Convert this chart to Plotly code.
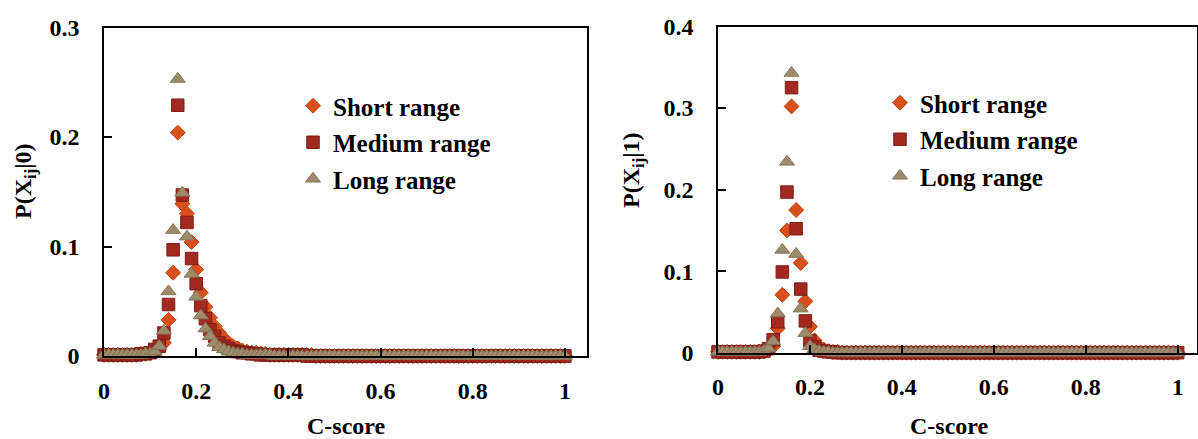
import plotly.graph_objects as go

# C-score bins
c_score = [0.00, 0.01, 0.02, 0.03, 0.04, 0.05, 0.06, 0.07, 0.08, 0.09,
           0.10, 0.11, 0.12, 0.13, 0.14, 0.15, 0.16, 0.17, 0.18, 0.19,
           0.20, 0.21, 0.22, 0.23, 0.24, 0.25, 0.26, 0.27, 0.28, 0.29,
           0.30, 0.31, 0.32, 0.33, 0.34, 0.35, 0.36, 0.37, 0.38, 0.39,
           0.40, 0.41, 0.42, 0.43, 0.44, 0.45, 0.46, 0.47, 0.48, 0.49,
           0.50, 0.51, 0.52, 0.53, 0.54, 0.55, 0.56, 0.57, 0.58, 0.59,
           0.60, 0.61, 0.62, 0.63, 0.64, 0.65, 0.66, 0.67, 0.68, 0.69,
           0.70, 0.71, 0.72, 0.73, 0.74, 0.75, 0.76, 0.77, 0.78, 0.79,
           0.80, 0.81, 0.82, 0.83, 0.84, 0.85, 0.86, 0.87, 0.88, 0.89,
           0.90, 0.91, 0.92, 0.93, 0.94, 0.95, 0.96, 0.97, 0.98, 0.99,
           1.00]

# P(Xij | 0)
short_0 = [0.001, 0.001, 0.001, 0.001, 0.001, 0.001, 0.001, 0.001, 0.002, 0.002,
           0.003, 0.005, 0.008, 0.012, 0.033, 0.076, 0.204, 0.139, 0.130, 0.104,
           0.079, 0.058, 0.045, 0.035, 0.027, 0.021, 0.016, 0.012, 0.009, 0.007,
           0.005, 0.004, 0.003, 0.003, 0.002, 0.002, 0.001, 0.001, 0.001, 0.001,
           0.001, 0.001, 0.001, 0.001, 0.001, 0.001, 0.000, 0.000, 0.000, 0.000,
           0.000, 0.000, 0.000, 0.000, 0.000, 0.000, 0.000, 0.000, 0.000, 0.000,
           0.000, 0.000, 0.000, 0.000, 0.000, 0.000, 0.000, 0.000, 0.000, 0.000,
           0.000, 0.000, 0.000, 0.000, 0.000, 0.000, 0.000, 0.000, 0.000, 0.000,
           0.000, 0.000, 0.000, 0.000, 0.000, 0.000, 0.000, 0.000, 0.000, 0.000,
           0.000, 0.000, 0.000, 0.000, 0.000, 0.000, 0.000, 0.000, 0.000, 0.000,
           0.000]
medium_0 = [0.001, 0.001, 0.001, 0.001, 0.001, 0.001, 0.001, 0.001, 0.002, 0.002,
            0.003, 0.006, 0.009, 0.021, 0.047, 0.097, 0.229, 0.147, 0.122, 0.089,
            0.066, 0.046, 0.034, 0.024, 0.018, 0.012, 0.009, 0.007, 0.005, 0.004,
            0.003, 0.003, 0.002, 0.002, 0.001, 0.001, 0.001, 0.001, 0.001, 0.001,
            0.001, 0.001, 0.001, 0.001, 0.000, 0.000, 0.000, 0.000, 0.000, 0.000,
            0.000, 0.000, 0.000, 0.000, 0.000, 0.000, 0.000, 0.000, 0.000, 0.000,
            0.000, 0.000, 0.000, 0.000, 0.000, 0.000, 0.000, 0.000, 0.000, 0.000,
            0.000, 0.000, 0.000, 0.000, 0.000, 0.000, 0.000, 0.000, 0.000, 0.000,
            0.000, 0.000, 0.000, 0.000, 0.000, 0.000, 0.000, 0.000, 0.000, 0.000,
            0.000, 0.000, 0.000, 0.000, 0.000, 0.000, 0.000, 0.000, 0.000, 0.000,
            0.000]
long_0 = [0.001, 0.001, 0.001, 0.001, 0.001, 0.001, 0.001, 0.001, 0.001, 0.002,
          0.002, 0.004, 0.009, 0.023, 0.059, 0.115, 0.253, 0.149, 0.109, 0.075,
          0.054, 0.037, 0.025, 0.018, 0.012, 0.008, 0.006, 0.004, 0.003, 0.002,
          0.002, 0.001, 0.001, 0.001, 0.001, 0.001, 0.001, 0.000, 0.000, 0.000,
          0.000, 0.000, 0.000, 0.000, 0.000, 0.000, 0.000, 0.000, 0.000, 0.000,
          0.000, 0.000, 0.000, 0.000, 0.000, 0.000, 0.000, 0.000, 0.000, 0.000,
          0.000, 0.000, 0.000, 0.000, 0.000, 0.000, 0.000, 0.000, 0.000, 0.000,
          0.000, 0.000, 0.000, 0.000, 0.000, 0.000, 0.000, 0.000, 0.000, 0.000,
          0.000, 0.000, 0.000, 0.000, 0.000, 0.000, 0.000, 0.000, 0.000, 0.000,
          0.000, 0.000, 0.000, 0.000, 0.000, 0.000, 0.000, 0.000, 0.000, 0.000,
          0.000]

# P(Xij | 1)
short_1 = [0.001, 0.001, 0.001, 0.001, 0.001, 0.001, 0.001, 0.001, 0.001, 0.001,
           0.002, 0.004, 0.008, 0.030, 0.071, 0.150, 0.302, 0.175, 0.110, 0.063,
           0.032, 0.015, 0.007, 0.004, 0.002, 0.001, 0.001, 0.000, 0.000, 0.000,
           0.000, 0.000, 0.000, 0.000, 0.000, 0.000, 0.000, 0.000, 0.000, 0.000,
           0.000, 0.000, 0.000, 0.000, 0.000, 0.000, 0.000, 0.000, 0.000, 0.000,
           0.000, 0.000, 0.000, 0.000, 0.000, 0.000, 0.000, 0.000, 0.000, 0.000,
           0.000, 0.000, 0.000, 0.000, 0.000, 0.000, 0.000, 0.000, 0.000, 0.000,
           0.000, 0.000, 0.000, 0.000, 0.000, 0.000, 0.000, 0.000, 0.000, 0.000,
           0.000, 0.000, 0.000, 0.000, 0.000, 0.000, 0.000, 0.000, 0.000, 0.000,
           0.000, 0.000, 0.000, 0.000, 0.000, 0.000, 0.000, 0.000, 0.000, 0.000,
           0.000]
medium_1 = [0.001, 0.001, 0.001, 0.001, 0.001, 0.001, 0.001, 0.001, 0.001, 0.001,
            0.002, 0.005, 0.016, 0.038, 0.099, 0.197, 0.325, 0.152, 0.078, 0.039,
            0.015, 0.007, 0.003, 0.002, 0.001, 0.001, 0.000, 0.000, 0.000, 0.000,
            0.000, 0.000, 0.000, 0.000, 0.000, 0.000, 0.000, 0.000, 0.000, 0.000,
            0.000, 0.000, 0.000, 0.000, 0.000, 0.000, 0.000, 0.000, 0.000, 0.000,
            0.000, 0.000, 0.000, 0.000, 0.000, 0.000, 0.000, 0.000, 0.000, 0.000,
            0.000, 0.000, 0.000, 0.000, 0.000, 0.000, 0.000, 0.000, 0.000, 0.000,
            0.000, 0.000, 0.000, 0.000, 0.000, 0.000, 0.000, 0.000, 0.000, 0.000,
            0.000, 0.000, 0.000, 0.000, 0.000, 0.000, 0.000, 0.000, 0.000, 0.000,
            0.000, 0.000, 0.000, 0.000, 0.000, 0.000, 0.000, 0.000, 0.000, 0.000,
            0.000]
long_1 = [0.001, 0.001, 0.001, 0.001, 0.001, 0.001, 0.001, 0.001, 0.001, 0.001,
          0.002, 0.005, 0.014, 0.048, 0.126, 0.234, 0.343, 0.121, 0.054, 0.024,
          0.008, 0.004, 0.002, 0.001, 0.001, 0.000, 0.000, 0.000, 0.000, 0.000,
          0.000, 0.000, 0.000, 0.000, 0.000, 0.000, 0.000, 0.000, 0.000, 0.000,
          0.000, 0.000, 0.000, 0.000, 0.000, 0.000, 0.000, 0.000, 0.000, 0.000,
          0.000, 0.000, 0.000, 0.000, 0.000, 0.000, 0.000, 0.000, 0.000, 0.000,
          0.000, 0.000, 0.000, 0.000, 0.000, 0.000, 0.000, 0.000, 0.000, 0.000,
          0.000, 0.000, 0.000, 0.000, 0.000, 0.000, 0.000, 0.000, 0.000, 0.000,
          0.000, 0.000, 0.000, 0.000, 0.000, 0.000, 0.000, 0.000, 0.000, 0.000,
          0.000, 0.000, 0.000, 0.000, 0.000, 0.000, 0.000, 0.000, 0.000, 0.000,
          0.000]

series_names = ["Short range", "Medium range", "Long range"]
x_tickvals = [0, 0.2, 0.4, 0.6, 0.8, 1.0]
x_ticktext = ["0", "0.2", "0.4", "0.6", "0.8", "1"]
y0_tickvals = [0, 0.1, 0.2, 0.3]
y0_ticktext = ["0", "0.1", "0.2", "0.3"]
y1_tickvals = [0, 0.1, 0.2, 0.3, 0.4]
y1_ticktext = ["0", "0.1", "0.2", "0.3", "0.4"]

FONT = "Liberation Serif"
W, H = 1198, 439

styles = [
    dict(symbol="diamond", size=11.5, color="#D9501C", line=dict(color="#C0440F", width=1)),
    dict(symbol="square", size=12.5, color="#A1291F", line=dict(color="#7E1E16", width=1)),
    dict(symbol="triangle-up", size=13, color="#9E8B6B", line=dict(color="#857255", width=1)),
]

fig = go.Figure()
panels = [
    ([short_0, medium_0, long_0], "x", "y", "legend"),
    ([short_1, medium_1, long_1], "x2", "y2", "legend2"),
]
for series, xa, ya, lg in panels:
    for name, vals, st in zip(series_names, series, styles):
        fig.add_trace(go.Scatter(
            x=c_score, y=vals, mode="markers", name=name,
            marker=dict(symbol=st["symbol"], size=st["size"], color=st["color"], line=st["line"]),
            xaxis=xa, yaxis=ya, legend=lg, legendgroup=lg + name,
            cliponaxis=False, showlegend=True,
        ))

tickfont = dict(family=FONT, size=24, color="black", weight="bold")
axis_common = dict(showline=True, linecolor="black", linewidth=1.5, mirror=True,
                   ticks="inside", ticklen=8, tickwidth=1.5, tickcolor="black",
                   showgrid=False, zeroline=False, tickfont=tickfont, automargin=False)

fig.update_layout(
    template="none",
    width=W, height=H,
    margin=dict(l=0, r=0, t=0, b=0, autoexpand=False),
    paper_bgcolor="white", plot_bgcolor="white",
    xaxis=dict(domain=[104 / W, 587 / W], range=[0, 1.048], tickvals=x_tickvals,
               ticktext=x_ticktext, anchor="y", ticklabelstandoff=12, **axis_common),
    yaxis=dict(domain=[1 - 356 / H, 1 - 27.5 / H], range=[0, 0.3], tickvals=y0_tickvals,
               ticktext=y0_ticktext, anchor="x", ticklabelstandoff=18, **axis_common),
    xaxis2=dict(domain=[718 / W, 1196.5 / W], range=[0, 1.041], tickvals=x_tickvals,
                ticktext=x_ticktext, anchor="y2", ticklabelstandoff=12, **axis_common),
    yaxis2=dict(domain=[1 - 352.7 / H, 1 - 26.5 / H], range=[0, 0.4], tickvals=y1_tickvals,
                ticktext=y1_ticktext, anchor="x2", ticklabelstandoff=18, **axis_common),
    legend=dict(x=293 / W, y=1 - 83 / H, xanchor="left", yanchor="top",
                font=dict(family=FONT, size=25, color="black", weight="bold"),
                bgcolor="rgba(0,0,0,0)", tracegroupgap=1),
    legend2=dict(x=880 / W, y=1 - 80 / H, xanchor="left", yanchor="top",
                 font=dict(family=FONT, size=25, color="black", weight="bold"),
                 bgcolor="rgba(0,0,0,0)", tracegroupgap=1),
    showlegend=True,
)

title_font = dict(family=FONT, size=24, color="black", weight="bold")
fig.add_annotation(text="P(X<sub>ij</sub>|0)", x=25 / W, y=1 - 181 / H, xref="paper", yref="paper",
                   showarrow=False, textangle=-90, font=title_font, xanchor="center", yanchor="middle")
fig.add_annotation(text="P(X<sub>ij</sub>|1)", x=633 / W, y=1 - 170 / H, xref="paper", yref="paper",
                   showarrow=False, textangle=-90, font=title_font, xanchor="center", yanchor="middle")
fig.add_annotation(text="C-score", x=346 / W, y=1 - 426 / H, xref="paper", yref="paper",
                   showarrow=False, font=title_font, xanchor="center", yanchor="middle")
fig.add_annotation(text="C-score", x=949 / W, y=1 - 426 / H, xref="paper", yref="paper",
                   showarrow=False, font=title_font, xanchor="center", yanchor="middle")

fig.write_html("out.html", config={"displayModeBar": False},
               post_script="document.body.style.margin='0';document.body.style.overflow='hidden';")
